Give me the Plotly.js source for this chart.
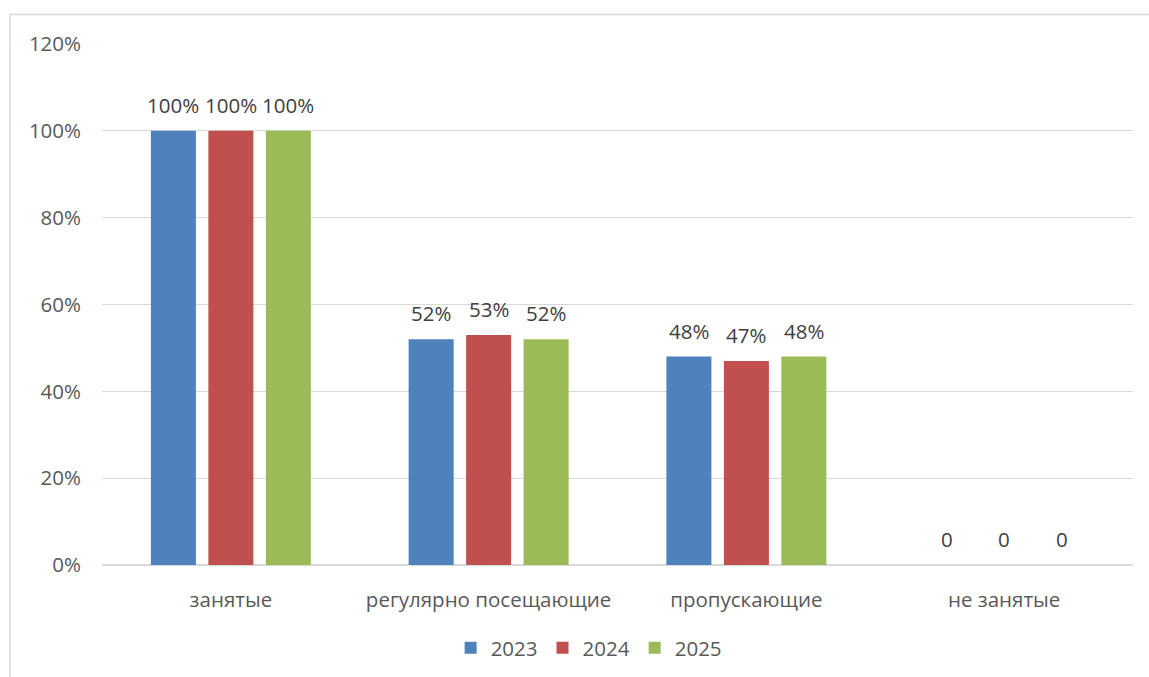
<!DOCTYPE html>
<html><head><meta charset="utf-8">
<script src="https://cdn.plot.ly/plotly-3.0.1.min.js"></script>
<style>html,body{margin:0;padding:0;background:#fff}#chart{width:1149px;height:677px}</style>
</head><body><div id="chart"></div>
<script>
const categories = ['занятые', 'регулярно посещающие', 'пропускающие', 'не занятые'];
const seriesNames = ['2023', '2024', '2025'];
const values2023 = [1.00, 0.52, 0.48, 0];
const values2024 = [1.00, 0.53, 0.47, 0];
const values2025 = [1.00, 0.52, 0.48, 0];
const colors = ['#4f81bd', '#c0504d', '#9bbb59'];
const yTickVals = [0, 0.2, 0.4, 0.6, 0.8, 1.0, 1.2];

const allValues = [values2023, values2024, values2025];
const font = "'Open Sans', 'Liberation Sans', sans-serif";
const fs = 20.5;
const traces = allValues.map((vals, i) => ({
  type: 'bar',
  name: seriesNames[i],
  x: categories,
  y: vals,
  marker: {color: colors[i]},
  hoverinfo: 'none'
}));

// data labels above bars
const slotPx = 57.5;
const annotations = [];
allValues.forEach((vals, i) => {
  vals.forEach((v, j) => {
    annotations.push({
      x: categories[j], y: v, xref: 'x', yref: 'y',
      text: v === 0 ? '0' : Math.round(v * 100) + '%',
      showarrow: false, yanchor: 'bottom', xanchor: 'center',
      xshift: (i - 1) * slotPx, yshift: 10,
      font: {family: font, size: fs, color: '#404040'}
    });
  });
});

const layout = {
  width: 1149, height: 677,
  margin: {l: 102, r: 16, t: 44, b: 112, autoexpand: false},
  paper_bgcolor: '#fff', plot_bgcolor: '#fff',
  barmode: 'group', bargap: 0.331, bargroupgap: 0.217,
  font: {family: font, size: fs, color: '#595959'},
  xaxis: {
    type: 'category', showgrid: false, zeroline: false,
    showline: false, ticks: '', ticklabelstandoff: 20, automargin: false,
    tickfont: {family: font, size: fs, color: '#595959'}
  },
  yaxis: {
    range: [0, 1.2], tickvals: yTickVals, tickformat: '.0%',
    showgrid: true, gridcolor: '#d9d9d9', gridwidth: 1.3,
    zeroline: true, zerolinecolor: '#d9d9d9', zerolinewidth: 1.3,
    showline: false, ticks: '', ticklabelstandoff: 20, automargin: false,
    tickfont: {family: font, size: fs, color: '#595959'}
  },
  showlegend: true,
  legend: {
    orientation: 'h', x: 0.472, xanchor: 'center', y: -0.159, yanchor: 'middle',
    font: {family: font, size: fs, color: '#595959'},
    itemwidth: 30, traceorder: 'normal'
  },
  annotations: annotations,
  shapes: [{
    type: 'rect', xref: 'paper', yref: 'paper',
    x0: (10 - 102) / 1031, x1: (1160 - 102) / 1031,
    y0: (565 - 690) / 521, y1: (565 - 14.5) / 521,
    line: {color: '#d9d9d9', width: 1.5}, fillcolor: 'rgba(0,0,0,0)', layer: 'below'
  }]
};

Plotly.newPlot('chart', traces, layout, {displayModeBar: false, staticPlot: true});
</script></body></html>
